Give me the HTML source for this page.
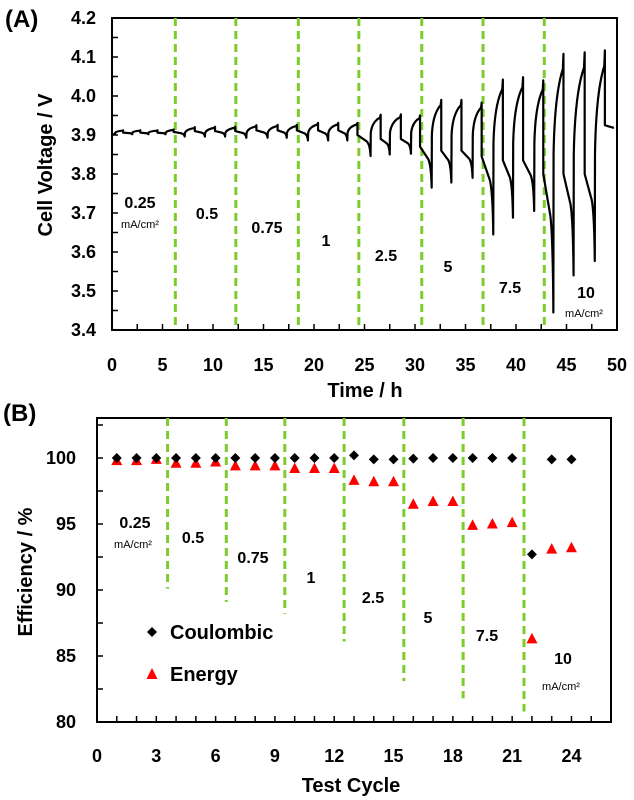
<!DOCTYPE html>
<html><head><meta charset="utf-8"><style>
html,body{margin:0;padding:0;background:#fff;}
svg{display:block;font-family:"Liberation Sans",Arial,sans-serif;}
</style></head><body>
<svg id="fig" width="634" height="800" viewBox="0 0 634 800" xmlns="http://www.w3.org/2000/svg">
<g id="chartA"></g>
<g id="chartB"></g>
</svg>
<script>
// ---------- Chart A data ----------
const aXTicks = [0,5,10,15,20,25,30,35,40,45,50];
const aYTicks = [3.4,3.5,3.6,3.7,3.8,3.9,4.0,4.1,4.2];
const aYTickLabels = ["3.4","3.5","3.6","3.7","3.8","3.9","4.0","4.1","4.2"];
const aDividers = [6.27,12.26,18.45,24.44,30.67,36.74,42.8];
const cycleMinT = [0.3,2.0,3.6,5.3, 7.2,9.2,11.2, 13.3,15.4,17.3, 19.4,21.4,23.3, 25.6,27.5,29.6, 31.65,33.6,35.7, 37.75,39.7,41.8, 43.7,45.7,47.8];
const cyclePeakT = [1.1,2.8,4.5,6.1, 8.2,10.2,12.2, 14.3,16.4,18.3, 20.4,22.4,24.3, 26.6,28.6,30.5, 32.6,34.6,36.6, 38.7,40.7,42.7, 44.7,46.8,48.8];
const cycleMinV = [3.902,3.902,3.902,3.902, 3.896,3.896,3.896, 3.893,3.893,3.893, 3.886,3.886,3.886, 3.846,3.850,3.852, 3.765,3.778,3.790, 3.645,3.688,3.705, 3.445,3.540,3.577];
const cycleRiseV = [3.906,3.906,3.906,3.906, 3.905,3.905,3.905, 3.905,3.905,3.905, 3.905,3.905,3.905, 3.905,3.905,3.905, 3.90,3.90,3.90, 3.88,3.88,3.88, 3.85,3.85,3.85];
const cyclePeakV = [3.912,3.912,3.912,3.914, 3.920,3.921,3.921, 3.925,3.926,3.926, 3.931,3.931,3.931, 3.952,3.953,3.950, 3.990,3.990,3.983, 4.042,4.048,4.040, 4.108,4.112,4.117];
const cycleDropV = [3.906,3.906,3.906,3.908, 3.910,3.910,3.910, 3.912,3.912,3.912, 3.912,3.912,3.900, 3.890,3.890,3.870, 3.860,3.860,3.845, 3.835,3.835,3.800, 3.80,3.80,3.925];
const startV = 3.902, endT = 49.7, endV = 3.918;
const aLabels = [["0.25",140,202],["0.5",207,213],["0.75",267,227],["1",326,240],["2.5",386,255],["5",448,266],["7.5",510,287],["10",586,292]];

// ---------- Chart B data ----------
const bCycles = [1,2,3,4,5,6,7,8,9,10,11,12,13,14,15,16,17,18,19,20,21,22,23,24];
const coulombic = [100,100,100,100,100,100,100,100,100,100,100,100,100.2,99.9,99.9,99.95,100,100,100,100,100,92.7,99.9,99.9];
const energy = [99.8,99.8,99.9,99.6,99.6,99.7,99.4,99.4,99.4,99.2,99.2,99.2,98.3,98.2,98.2,96.5,96.7,96.7,94.9,95.0,95.1,86.3,93.1,93.2];
const bXTicks = [0,3,6,9,12,15,18,21,24];
const bYTicks = [80,85,90,95,100];
const bDividerX = [3.57,6.54,9.5,12.5,15.52,18.52,21.6];
const bDividerBottom = [90.1,89.1,88.2,86.1,83.1,81.8,80.8];
const bLabels = [["0.25",135,522],["0.5",193,537],["0.75",253,557],["1",311,577],["2.5",373,597],["5",428,617],["7.5",487,635],["10",563,658]];

const NS="http://www.w3.org/2000/svg";
function mk(parent,tag,attrs,text){const e=document.createElementNS(NS,tag);for(const k in attrs)e.setAttribute(k,attrs[k]);if(text!==undefined)e.textContent=text;parent.appendChild(e);return e;}

// ---------- Chart A ----------
(function(){
const g=document.getElementById('chartA');
const L=112,R=617,T=18,B=330, x0=0,x1=50,y0=3.4,y1=4.2;
const sx=v=>L+(v-x0)/(x1-x0)*(R-L);
const sy=v=>B-(v-y0)/(y1-y0)*(B-T);
let e;
e=mk(g,'text',{x:5,y:27,'font-size':24,'font-weight':'bold'},'(A)');


e=mk(g,'rect',{x:L,y:T,width:R-L,height:B-T,fill:'none',stroke:'#000','stroke-width':2});


for(let v=0;v<=50;v+=2.5){mk(g,'line',{x1:sx(v),x2:sx(v),y1:B,y2:B-6,stroke:'#000','stroke-width':1.5});}
for(let i=0;i<=16;i++){const v=3.4+i*0.05;mk(g,'line',{x1:L,x2:L+6,y1:sy(v),y2:sy(v),stroke:'#000','stroke-width':1.5});}
aXTicks.forEach(v=>{e=mk(g,'text',{x:sx(v),y:371,'font-size':18,'font-weight':'bold','text-anchor':'middle'},String(v));

});
aYTicks.forEach((v,i)=>{e=mk(g,'text',{x:96,y:sy(v)+6,'font-size':18,'font-weight':'bold','text-anchor':'end'},aYTickLabels[i]);

});
e=mk(g,'text',{x:365,y:397,'font-size':20,'font-weight':'bold','text-anchor':'middle'},'Time / h');


e=mk(g,'text',{x:0,y:0,'font-size':20,'font-weight':'bold','text-anchor':'middle',transform:'translate(52,165) rotate(-90)'},'Cell Voltage / V');


aDividers.forEach(v=>{e=mk(g,'line',{x1:sx(v),x2:sx(v),y1:T,y2:B,stroke:'#7dcc2e','stroke-width':3,'stroke-dasharray':'8,5'});

});
let d=`M${sx(0)},${sy(startV)}`;
for(let i=0;i<cycleMinT.length;i++){
  const tm=cycleMinT[i],tp=cyclePeakT[i],m=cycleMinV[i],r=cycleRiseV[i],p=cyclePeakV[i],dv=cycleDropV[i];
  if(i===0){d+=` L${sx(tm)},${sy(m)}`;}
  else{
    const ptp=cyclePeakT[i-1],pd=cycleDropV[i-1];
    const mid=ptp+0.7*(tm-ptp);
    d+=` L${sx(mid)},${sy(pd-0.3*(pd-m))} Q${sx(tm-0.05)},${sy(pd-0.45*(pd-m))} ${sx(tm)},${sy(m)}`;
  }
  const c=tp-tm;
  d+=` L${sx(tm+0.02)},${sy(r)} Q${sx(tm+0.12*c)},${sy(p-0.4*(p-r))} ${sx(tp-0.06*c)},${sy(p-0.15*(p-r))} L${sx(tp)},${sy(p)} L${sx(tp)},${sy(dv)}`;
}
d+=` L${sx(endT)},${sy(endV)}`;
e=mk(g,'path',{d:d,fill:'none',stroke:'#000','stroke-width':2.2,'stroke-linejoin':'round'});


aLabels.forEach(a=>{e=mk(g,'text',{x:a[1],y:a[2]+6,'font-size':16,'font-weight':'bold','text-anchor':'middle'},a[0]);

});
e=mk(g,'text',{x:140,y:228,'font-size':11,'text-anchor':'middle'},'mA/cm²');


e=mk(g,'text',{x:584,y:317,'font-size':11,'text-anchor':'middle'},'mA/cm²');


})();

// ---------- Chart B ----------
(function(){
const g=document.getElementById('chartB');
const L=97,R=611,T=418,B=722,x0=0,x1=26,y0=80,y1=103.03;
const sx=v=>L+(v-x0)/(x1-x0)*(R-L);
const sy=v=>B-(v-y0)/(y1-y0)*(B-T);
let e;
e=mk(g,'text',{x:3,y:421,'font-size':24,'font-weight':'bold'},'(B)');


e=mk(g,'rect',{x:L,y:T,width:R-L,height:B-T,fill:'none',stroke:'#000','stroke-width':2});


for(let v=1;v<=25;v++){mk(g,'line',{x1:sx(v),x2:sx(v),y1:B,y2:B-6,stroke:'#000','stroke-width':1.5});}
for(let v=80;v<=102.5;v+=2.5){mk(g,'line',{x1:L,x2:L+6,y1:sy(v),y2:sy(v),stroke:'#000','stroke-width':1.5});}
bXTicks.forEach(v=>{e=mk(g,'text',{x:sx(v),y:762,'font-size':18,'font-weight':'bold','text-anchor':'middle'},String(v));

});
bYTicks.forEach(v=>{e=mk(g,'text',{x:76,y:sy(v)+6,'font-size':18,'font-weight':'bold','text-anchor':'end'},String(v));

});
e=mk(g,'text',{x:351,y:792,'font-size':20,'font-weight':'bold','text-anchor':'middle'},'Test Cycle');


e=mk(g,'text',{x:0,y:0,'font-size':20,'font-weight':'bold','text-anchor':'middle',transform:'translate(32,572) rotate(-90)'},'Efficiency / %');


bDividerX.forEach((v,i)=>{e=mk(g,'line',{x1:sx(v),x2:sx(v),y1:T,y2:sy(bDividerBottom[i]),stroke:'#7dcc2e','stroke-width':3,'stroke-dasharray':'8,5'});

});
energy.forEach((v,i)=>{const x=sx(bCycles[i]),y=sy(v);
e=mk(g,'polygon',{points:`${x},${y-6} ${x-5.5},${y+4.5} ${x+5.5},${y+4.5}`,fill:'#ff0000'});

});
coulombic.forEach((v,i)=>{const x=sx(bCycles[i]),y=sy(v);
e=mk(g,'polygon',{points:`${x},${y-5} ${x+5},${y} ${x},${y+5} ${x-5},${y}`,fill:'#000'});

});
bLabels.forEach(a=>{e=mk(g,'text',{x:a[1],y:a[2]+6,'font-size':16,'font-weight':'bold','text-anchor':'middle'},a[0]);

});
e=mk(g,'text',{x:133,y:548,'font-size':11,'text-anchor':'middle'},'mA/cm²');


e=mk(g,'text',{x:561,y:690,'font-size':11,'text-anchor':'middle'},'mA/cm²');


e=mk(g,'polygon',{points:'152,627 157,632 152,637 147,632',fill:'#000'});


e=mk(g,'text',{x:170,y:639,'font-size':20,'font-weight':'bold'},'Coulombic');


e=mk(g,'polygon',{points:'152,668 146.5,679 157.5,679',fill:'#ff0000'});


e=mk(g,'text',{x:170,y:681,'font-size':20,'font-weight':'bold'},'Energy');


})();
</script>
</body></html>
